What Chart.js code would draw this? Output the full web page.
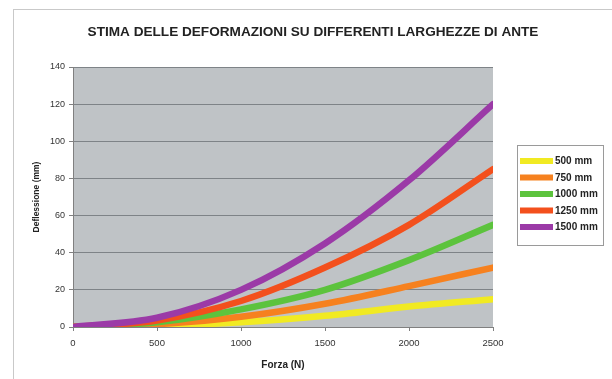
<!DOCTYPE html>
<html>
<head>
<meta charset="utf-8">
<script src="https://cdn.jsdelivr.net/npm/chart.js@4.4.0/dist/chart.umd.min.js"></script>
<style>
  html, body { margin: 0; padding: 0; background: #ffffff; }
  #wrap { width: 612px; height: 379px; position: relative; }
</style>
</head>
<body>
<div id="wrap"><canvas id="grafico"></canvas></div>
<script>
// forza applicata (N)
const forze = [0, 500, 1000, 1500, 2000, 2500];
// larghezze delle ante
const larghezze = ['500 mm', '750 mm', '1000 mm', '1250 mm', '1500 mm'];
// deflessione (mm) per ogni larghezza
const def500 = [0, 0.7, 2.5, 6, 11, 15];
const def750 = [0, 1.5, 5.5, 12.5, 22, 32];
const def1000 = [0, 2.5, 9.5, 20, 36, 55];
const def1250 = [0, 3.5, 14, 32, 55, 85];
const def1500 = [0, 5, 20, 45, 79, 120];
const yTicks = [0, 20, 40, 60, 80, 100, 120, 140];

const titolo = 'STIMA DELLE DEFORMAZIONI SU DIFFERENTI LARGHEZZE DI ANTE';
const colori = ['#f1ea22', '#f6811f', '#5cc33d', '#f3501d', '#9b3aa7'];
const serie = [def500, def750, def1000, def1250, def1500];

// cornice, sfondo grigio, titolo e legenda disegnati a mano
const decorazioni = {
    id: 'decorazioni',
    beforeDraw(chart) {
        const ctx = chart.ctx;
        const a = chart.chartArea;
        ctx.save();
        ctx.strokeStyle = '#c9c9c9';
        ctx.lineWidth = 1;
        ctx.strokeRect(13.5, 9.5, 610, 380);
        ctx.fillStyle = '#bfc3c6';
        ctx.fillRect(a.left, a.top, a.right - a.left, a.bottom - a.top);
        ctx.fillStyle = '#222';
        ctx.font = 'bold 13.6px "Liberation Sans"';
        ctx.textAlign = 'center';
        ctx.textBaseline = 'middle';
        ctx.fillText(titolo, 313, 32);
        ctx.restore();
    },
    afterDraw(chart) {
        const ctx = chart.ctx;
        ctx.save();
        ctx.fillStyle = '#ffffff';
        ctx.fillRect(517.5, 145.5, 86, 100);
        ctx.strokeStyle = '#9a9a9a';
        ctx.lineWidth = 1;
        ctx.strokeRect(517.5, 145.5, 86, 100);
        ctx.font = 'bold 10px "Liberation Sans"';
        ctx.textAlign = 'left';
        ctx.textBaseline = 'middle';
        chart.data.datasets.forEach((ds, i) => {
            const y = 161 + i * 16.5;
            ctx.strokeStyle = ds.borderColor;
            ctx.lineWidth = 6;
            ctx.lineCap = 'butt';
            ctx.beginPath();
            ctx.moveTo(520, y);
            ctx.lineTo(553, y);
            ctx.stroke();
            ctx.fillStyle = '#222';
            ctx.fillText(ds.label, 555, y + 0.5);
        });
        ctx.restore();
    }
};

let datasets = [];
for (let i = 0; i < serie.length; i++) {
    datasets.push({
        label: larghezze[i],
        data: serie[i],
        borderColor: colori[i],
        backgroundColor: colori[i],
        borderWidth: 6.5,
        pointRadius: 0,
        cubicInterpolationMode: 'monotone',
        borderCapStyle: 'round',
        order: serie.length - i
    });
}

new Chart(document.getElementById('grafico'), {
    type: 'line',
    data: { labels: forze, datasets: datasets },
    plugins: [decorazioni],
    options: {
        responsive: true,
        maintainAspectRatio: false,
        animation: false,
        layout: { padding: { left: 24, right: 119, top: 67, bottom: 0 } },
        plugins: {
            title: { display: false },
            legend: { display: false },
            tooltip: { enabled: false }
        },
        scales: {
            x: {
                type: 'linear',
                min: 0,
                max: 2500,
                afterBuildTicks(scale) {
                    scale.ticks = forze.map(v => ({ value: v }));
                },
                afterFit(scale) { scale.height = 52; },
                grid: { drawOnChartArea: false, drawTicks: true, tickLength: 4, tickColor: '#808080' },
                border: { color: '#808080' },
                ticks: {
                    color: '#333',
                    padding: 7,
                    maxRotation: 0,
                    font: { family: 'Liberation Sans', size: 9.5 },
                    callback: v => String(v)
                },
                title: {
                    display: true,
                    text: 'Forza (N)',
                    color: '#222',
                    font: { family: 'Liberation Sans', size: 10, weight: 'bold' },
                    padding: { top: 4, bottom: 8 }
                }
            },
            y: {
                min: 0,
                max: 140,
                afterBuildTicks(scale) {
                    scale.ticks = yTicks.map(v => ({ value: v }));
                },
                afterFit(scale) { scale.width = 49; },
                grid: { color: '#7e8387', lineWidth: 1, tickLength: 4, tickColor: '#808080' },
                border: { color: '#808080' },
                ticks: {
                    color: '#333',
                    padding: 4,
                    font: { family: 'Liberation Sans', size: 9 },
                    callback: v => String(v)
                },
                title: {
                    display: true,
                    text: 'Deflessione (mm)',
                    color: '#222',
                    font: { family: 'Liberation Sans', size: 8.5, weight: 'bold' },
                    padding: { top: 8, bottom: 2 }
                }
            }
        }
    }
});
</script>
</body>
</html>
